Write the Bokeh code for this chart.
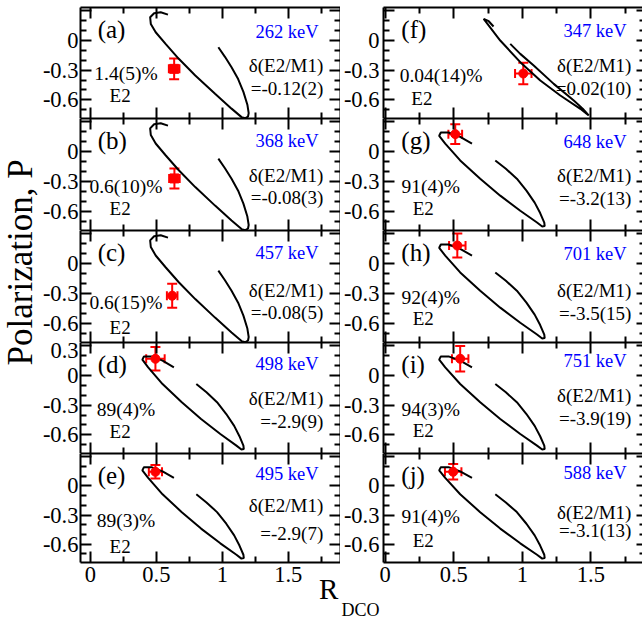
import math
from bokeh.plotting import figure
from bokeh.layouts import gridplot, row
from bokeh.models import (Range1d, FixedTicker, LinearAxis, Whisker, ColumnDataSource,
                          TeeHead, Label, Title)
from bokeh.embed import file_html
from bokeh.resources import INLINE

# ---------------- data ----------------
panel_ids = ["a", "b", "c", "d", "e", "f", "g", "h", "i", "j"]
energies = ["262 keV", "368 keV", "457 keV", "498 keV", "495 keV",
            "347 keV", "648 keV", "701 keV", "751 keV", "588 keV"]
deltas = ["=-0.12(2)", "=-0.08(3)", "=-0.08(5)", "=-2.9(9)", "=-2.9(7)",
          "=0.02(10)", "=-3.2(13)", "=-3.5(15)", "=-3.9(19)", "=-3.1(13)"]
e2_fracs = ["1.4(5)%", "0.6(10)%", "0.6(15)%", "89(4)%", "89(3)%",
            "0.04(14)%", "91(4)%", "92(4)%", "94(3)%", "91(4)%"]

# measured R_DCO and polarization with errors
r_dco = [0.635, 0.637, 0.62, 0.493, 0.493, 1.007, 0.511, 0.526, 0.547, 0.496]
r_err = [0.04, 0.04, 0.04, 0.07, 0.05, 0.06, 0.05, 0.06, 0.06, 0.06]
pol = [-0.287, -0.267, -0.32, 0.17, 0.146, -0.334, 0.178, 0.184, 0.17, 0.146]
pol_err = [0.106, 0.10, 0.12, 0.12, 0.07, 0.11, 0.10, 0.12, 0.13, 0.08]
marker_kind = ["square", "square", "circle", "circle", "circle",
               "circle", "circle", "circle", "circle", "circle"]

# calculated curves (R_DCO, P) as a function of mixing ratio
curve_A_R = [0.588, 0.533, 0.483, 0.453, 0.458, 0.495, 0.57, 0.67, 0.795, 0.945,
             1.07, 1.146, 1.175, 1.195, 1.2, 1.19, 1.16, 1.12, 1.07, 1.02, 0.97]
curve_A_P = [0.263, 0.287, 0.277, 0.236, 0.169, 0.084, -0.034, -0.185, -0.354, -0.54,
             -0.69, -0.776, -0.786, -0.77, -0.735, -0.65, -0.52, -0.39, -0.27, -0.165, -0.068]
curve_B_R = [0.633, 0.547, 0.462, 0.406, 0.394, 0.438, 0.547, 0.693, 0.839, 0.985,
             1.107, 1.145, 1.163, 1.16, 1.13, 1.09, 1.03, 0.96, 0.88, 0.803]
curve_B_P = [0.083, 0.151, 0.194, 0.194, 0.161, 0.083, -0.086, -0.271, -0.44, -0.592,
             -0.71, -0.75, -0.745, -0.71, -0.615, -0.51, -0.39, -0.27, -0.17, -0.086]
curve_F_R = [0.79, 0.755, 0.718, 0.839, 0.985, 1.131, 1.277, 1.423, 1.484,
             1.44, 1.375, 1.229, 1.083, 0.985, 0.912]
curve_F_P = [0.142, 0.196, 0.22, 0.0, -0.219, -0.405, -0.557, -0.692, -0.759,
             -0.69, -0.607, -0.439, -0.253, -0.135, -0.034]
curve_of_panel = ["A", "A", "A", "B", "B", "F", "B", "B", "B", "B"]
curves = {"A": (curve_A_R, curve_A_P), "B": (curve_B_R, curve_B_P),
          "F": (curve_F_R, curve_F_P)}

x_ticks = [0, 0.5, 1, 1.5]
x_tick_labels = ["0", "0.5", "1", "1.5"]
y_ticks = [-0.6, -0.3, 0, 0.3]
y_tick_labels = ["-0.6", "-0.3", "0", "0.3"]
x_title = "R"
x_title_sub = "DCO"
y_title = "Polarization, P"

# ---------------- styling / layout ----------------
FONT = "Liberation Serif"
X_MINOR = [0.25, 0.75, 1.25, 1.75]
Y_MINOR = [-0.7, -0.5, -0.4, -0.2, -0.1, 0.1, 0.2]
XR = {0: (-0.075, 1.896), 1: (-0.012, 1.876)}
YR = (-0.79, 0.335)
ROW_H = [118, 112, 112, 111, 166]
COL_W = [301, 302]
BORDER_L = [38, 43]
STANDOFF_L = [2, 4]
STRIP_W = 39

# text positions (data units) per panel: (energy y, delta1 y, delta2 y, frac y, E2 y)
ypos = [
    (0.085, -0.25, -0.485, -0.335, -0.555),
    (0.105, -0.235, -0.46, -0.35, -0.57),
    (0.11, -0.27, -0.49, -0.39, -0.64),
    (0.12, -0.235, -0.47, -0.345, -0.57),
    (0.125, -0.205, -0.49, -0.355, -0.63),
    (0.10, -0.25, -0.49, -0.35, -0.59),
    (0.10, -0.24, -0.47, -0.35, -0.57),
    (0.10, -0.27, -0.50, -0.34, -0.55),
    (0.15, -0.20, -0.44, -0.34, -0.56),
    (0.135, -0.27, -0.46, -0.32, -0.56),
]
# x offsets from panel left edge: (fraction text centre, E2 centre)
xpos = [(0.345, 0.30)] * 5 + [(0.42, 0.28)] + [(0.345, 0.29)] * 4


def tick_axis(ticks, labels, minor, show_labels, **kw):
    ax = LinearAxis(ticker=FixedTicker(ticks=ticks, minor_ticks=minor), **kw)
    ax.major_label_overrides = {t: (l if show_labels else "") for t, l in zip(ticks, labels)}
    ax.major_tick_in = 11
    ax.major_tick_out = 0
    ax.minor_tick_in = 6
    ax.minor_tick_out = 0
    ax.major_tick_line_width = 2
    ax.minor_tick_line_width = 2
    ax.axis_line_width = 2
    ax.axis_line_color = "black"
    ax.major_tick_line_color = "black"
    ax.minor_tick_line_color = "black"
    if show_labels:
        ax.major_label_text_font = FONT
        ax.major_label_text_font_size = "22.5px"
        ax.major_label_text_color = "black"
    else:
        ax.major_label_text_font_size = "0px"
        ax.major_label_standoff = 0
    return ax


def txt(x, y, s, size, align="center", color="black"):
    return Label(x=x, y=y, text=s, text_font=FONT, text_font_size=size,
                 text_color=color, text_align=align, text_baseline="middle")


figs = {}
for k, pid in enumerate(panel_ids):
    col = 0 if k < 5 else 1
    r = k % 5
    p = figure(width=COL_W[col], height=ROW_H[r], output_backend="svg",
               toolbar_location=None, x_range=Range1d(*XR[col]), y_range=Range1d(*YR),
               x_axis_location=None, y_axis_location=None, min_border=0)
    p.min_border_left = BORDER_L[col]
    p.min_border_right = 0
    p.min_border_top = 7 if r == 0 else 0
    p.min_border_bottom = 54 if r == 4 else 0
    p.outline_line_color = None
    p.background_fill_color = "white"
    p.border_fill_color = "white"
    p.xgrid.visible = False
    p.ygrid.visible = False

    ylabels = list(y_tick_labels)
    if pid != "d":
        ylabels[3] = ""
    left = tick_axis(y_ticks, ylabels, Y_MINOR, True)
    left.major_label_standoff = STANDOFF_L[col]
    p.add_layout(left, "left")
    right = tick_axis(y_ticks, y_tick_labels, Y_MINOR, False)
    if col == 1:
        right.axis_line_color = None
        right.major_tick_in = 6
        right.minor_tick_in = 3
    p.add_layout(right, "right")
    top = tick_axis(x_ticks, x_tick_labels, X_MINOR, False)
    p.add_layout(top, "above")
    bottom = tick_axis(x_ticks, x_tick_labels, X_MINOR, r == 4)
    if r == 4:
        bottom.major_label_standoff = 4
    p.add_layout(bottom, "below")

    cr, cp = curves[curve_of_panel[k]]
    p.line(cr, cp, line_color="black", line_width=2)

    src = ColumnDataSource(dict(x=[r_dco[k]], y=[pol[k]],
                                xl=[r_dco[k] - r_err[k]], xu=[r_dco[k] + r_err[k]],
                                yl=[pol[k] - pol_err[k]], yu=[pol[k] + pol_err[k]]))
    p.add_layout(Whisker(source=src, base="x", lower="yl", upper="yu", dimension="height",
                         line_color="red", line_width=2,
                         lower_head=TeeHead(size=10, line_color="red", line_width=2),
                         upper_head=TeeHead(size=10, line_color="red", line_width=2)))
    p.add_layout(Whisker(source=src, base="y", lower="xl", upper="xu", dimension="width",
                         line_color="red", line_width=2,
                         lower_head=TeeHead(size=9, line_color="red", line_width=2),
                         upper_head=TeeHead(size=9, line_color="red", line_width=2)))
    p.scatter("x", "y", source=src, marker=marker_kind[k], size=9,
              fill_color="red", line_color="red")

    x0, x1 = XR[col]
    xr_right = 1.73 if col == 0 else 1.76
    ye, yd1, yd2, yf, ye2 = ypos[k]
    xf, xe2 = xpos[k]
    p.add_layout(txt(x0 + 0.13, 0.11, "(" + pid + ")", "25px", align="left"))
    p.add_layout(txt(xr_right, ye, energies[k], "18.5px", align="right", color="#0000ff"))
    p.add_layout(txt(xr_right + 0.035, yd1, "\u03b4(E2/M1)", "19px", align="right"))
    p.add_layout(txt(xr_right + 0.035, yd2, deltas[k], "19px", align="right"))
    p.add_layout(txt(x0 + xf, yf, e2_fracs[k], "19.5px"))
    p.add_layout(txt(x0 + xe2, ye2, "E2", "19px"))
    figs[pid] = p

# x-axis title: "R" as an extra label-only axis under panel (e)
r_pos = 1.806
rax = LinearAxis(ticker=FixedTicker(ticks=[r_pos], minor_ticks=[]))
rax.major_label_overrides = {r_pos: x_title}
rax.major_tick_in = 0
rax.major_tick_out = 0
rax.minor_tick_in = 0
rax.minor_tick_out = 0
rax.axis_line_color = None
rax.major_tick_line_color = None
rax.minor_tick_line_color = None
rax.major_label_text_font = FONT
rax.major_label_text_font_size = "29px"
rax.major_label_text_color = "black"
rax.major_label_standoff = -12
figs["e"].add_layout(rax, "below")

# subscript "DCO" under panel (j)
figs["j"].add_layout(Title(text=" ", text_font_size="1px", standoff=10), "below")
figs["j"].add_layout(Title(text=x_title_sub, align="left", offset=-42, standoff=0,
                           vertical_align="bottom", text_font=FONT, text_font_size="18px",
                           text_font_style="normal", text_color="black"), "below")

# y title strip
strip = figure(width=STRIP_W, height=sum(ROW_H), output_backend="svg", toolbar_location=None,
               x_range=Range1d(0, 1), y_range=Range1d(0, 1), x_axis_location=None,
               y_axis_location=None, min_border=0)
strip.outline_line_color = None
strip.xgrid.visible = False
strip.ygrid.visible = False
strip.add_layout(Label(x=0.5, y=0.577, text=y_title, text_font=FONT,
                       text_font_size="35px", angle=math.pi / 2, text_align="center",
                       text_baseline="middle", text_color="black"))

grid = gridplot([[figs[a], figs[b]] for a, b in zip(panel_ids[:5], panel_ids[5:])],
                toolbar_location=None)
layout = row(strip, grid)
open("out.html", "w").write(file_html(layout, INLINE))
